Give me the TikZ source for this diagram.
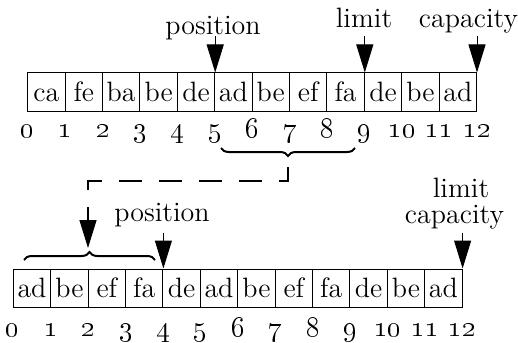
\documentclass[tikz,border=0pt]{standalone}
\usetikzlibrary{arrows.meta,decorations.pathreplacing}

\tikzset{
    cell/.style={draw,line width=0.5pt,minimum width=18.7pt,minimum height=19pt,
        inner sep=0pt,text height=9.6pt,text depth=0pt,font=\fontsize{14}{16}\selectfont},
    idx/.style={anchor=base,inner sep=0pt,font=\fontsize{14.5}{16}\selectfont},
    lbl/.style={anchor=base,inner sep=0pt,font=\fontsize{14}{16}\selectfont},
    ptr/.style={line width=0.5pt,-{Triangle[length=14pt,width=8.5pt]}},
    brc/.style={decorate,decoration={brace,amplitude=4pt},line width=1pt},
}

\begin{document}
\begin{tikzpicture}[x=0.5pt,y=-0.5pt]
    \useasboundingbox (0,0) rectangle (518,342);

    \foreach \t [count=\i] in {ca,fe,ba,be,de,ad,be,ef,fa,de,be,ad}
        \node[cell] (a\i) at ({27.7+37.4*(\i-0.5)},92) {\t};
    \node[idx] (an0) at ([yshift=-13pt]a1.south west) {\oldstylenums{0}};
    \foreach \i in {1,...,12}
        \node[idx] (an\i) at ([yshift=-13pt]a\i.south east) {\oldstylenums{\i}};

    \node[lbl] (pos1) at (213,35) {position};
    \node[lbl] (lim1) at (364,28) {limit};
    \node[lbl] (cap1) at (468.5,28) {capacity};
    \draw[ptr] ([yshift=18pt]a5.north east) -- (a5.north east);
    \draw[ptr] ([yshift=18pt]a9.north east) -- (a9.north east);
    \draw[ptr] ([yshift=18pt]a12.north east) -- (a12.north east);

    \draw[brc] (355,148) -- (221,148);
    \coordinate (tipA) at (288,157);
    \coordinate (tipB) at (88,248);
    \draw[ptr,line width=0.65pt,dash pattern=on 11.5pt off 8.5pt,dash phase=15pt]
        (tipA) -- ++(0,24) -| (tipB);
    \draw[brc] (24,260) -- (155,260);

    \foreach \t [count=\i] in {ad,be,ef,fa,de,ad,be,ef,fa,de,be,ad}
        \node[cell] (b\i) at ({13.3+37.4*(\i-0.5)},288) {\t};
    \node[idx] (bn0) at ([yshift=-14.5pt]b1.south west) {\oldstylenums{0}};
    \foreach \i in {1,...,12}
        \node[idx] (bn\i) at ([yshift=-14.5pt]b\i.south east) {\oldstylenums{\i}};

    \node[lbl] (pos2) at (162,221.7) {position};
    \node[lbl] (lim2) at (461,197) {limit};
    \node[lbl] (cap2) at (454.5,223) {capacity};
    \draw[ptr] ([yshift=18pt]b4.north east) -- (b4.north east);
    \draw[ptr] ([yshift=18pt]b12.north east) -- (b12.north east);
\end{tikzpicture}
\end{document}
